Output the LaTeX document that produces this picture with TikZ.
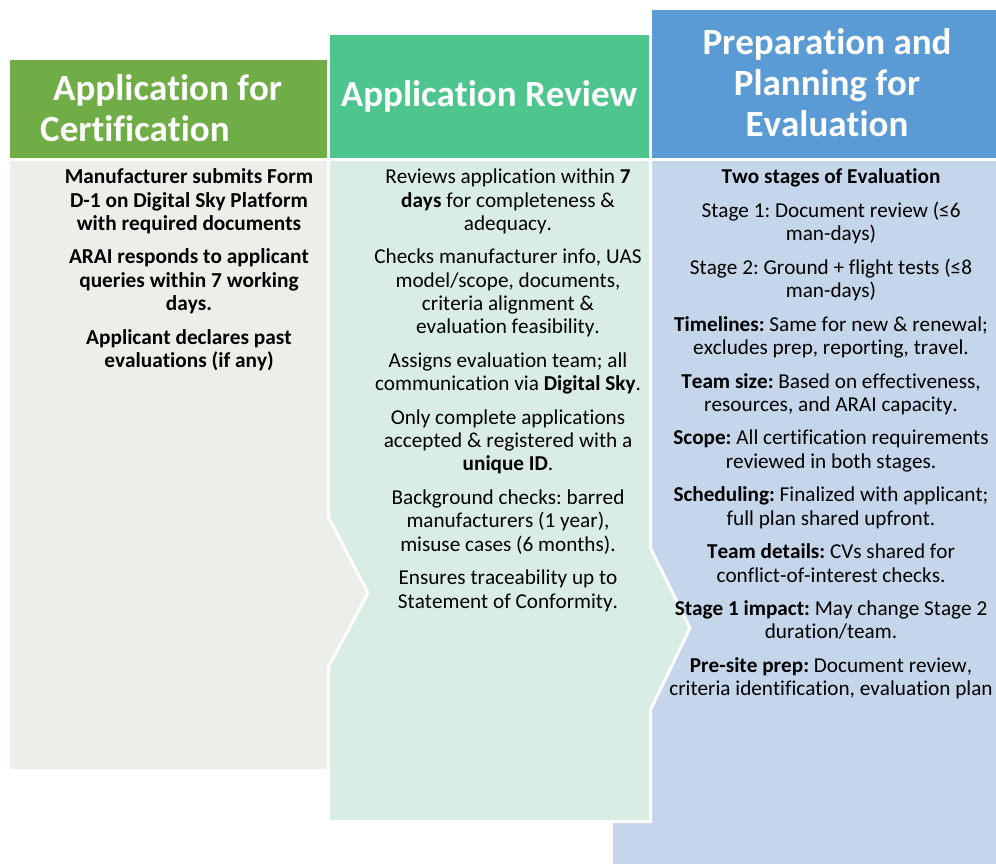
\documentclass[tikz,border=0pt]{standalone}
\usepackage{fontspec}
\setmainfont{Carlito}[Ligatures={NoCommon,NoRequired,NoContextual},Kerning=Off,RawFeature={-liga;-clig;-calt;-dlig}]
\frenchspacing
\definecolor{hA}{HTML}{70AD47}
\definecolor{hB}{HTML}{4FC58E}
\definecolor{hC}{HTML}{5B9BD5}
\definecolor{bA}{HTML}{EBEFE8}
\definecolor{bB}{HTML}{D9EDE5}
\definecolor{bC}{HTML}{C5D5EA}
\tikzset{
  shapebox/.style={draw=white, line width=3pt, line join=miter},
  headtext/.style={text=white, font=\fontsize{37}{41}\selectfont\bfseries\frenchspacing, inner sep=0pt},
  bodytext/.style={text=black, font=\fontsize{21.2}{23.3}\selectfont\frenchspacing, inner sep=0pt, align=center, anchor=north},
  bodybold/.style={bodytext, font=\fontsize{21.3}{23.3}\selectfont\bfseries\frenchspacing}
}
\begin{document}
\begin{tikzpicture}[x=1pt,y=-1pt]
\useasboundingbox (0,0) rectangle (996,864);
% bodies
\path[shapebox, fill=bC] (611.5,159.5) rectangle (997.5,865.5);
\path[shapebox, fill=bB] (328.5,159.5) -- (650.5,159.5) -- (650.5,548) -- (690,628) -- (650.5,710) -- (650.5,821.5) -- (328.5,821.5) -- cycle;
\path[shapebox, fill=bA] (8.5,159.5) -- (328.5,159.5) -- (328.5,517) -- (368,593) -- (328.5,667) -- (328.5,770.5) -- (8.5,770.5) -- cycle;
% headers
\path[shapebox, fill=hA] (8.5,58.5) rectangle (328.5,159.5);
\path[shapebox, fill=hB] (328.5,33.5) rectangle (650.5,159.5);
\path[shapebox, fill=hC] (650.5,8.5) rectangle (997.5,159.5);
% header texts
\node[headtext, anchor=north west, align=left] (h1t) at (40,70) {\rule{0pt}{30pt}\hspace*{13pt}Application for\\Certification};
\node[headtext, anchor=base] (h2t) at (489,107) {Application Review};
\node[headtext, anchor=north, align=center] (h3t) at (827,24) {\rule{0pt}{30pt}Preparation and\\Planning for\\Evaluation};
% body texts
\node[bodybold] (t1) at (189,165.5) {\rule{0pt}{18pt}Manufacturer submits Form\\D-1 on Digital Sky Platform\\with required documents\\[10.3pt]ARAI responds to applicant\\queries within 7 working\\days.\\[10.3pt]Applicant declares past\\evaluations (if any)};
\node[bodytext] (t2) at (508,165.5) {\rule{0pt}{18pt}Reviews application within \textbf{7}\\\textbf{days} for completeness \&\\adequacy.\\[10.3pt]Checks manufacturer info, UAS\\model/scope, documents,\\criteria alignment \&\\evaluation feasibility.\\[10.3pt]Assigns evaluation team; all\\communication via \textbf{Digital Sky}.\\[10.3pt]Only complete applications\\accepted \& registered with a\\\textbf{unique ID}.\\[10.3pt]Background checks: barred\\manufacturers (1 year),\\misuse cases (6 months).\\[10.3pt]Ensures traceability up to\\Statement of Conformity.};
\node[bodytext] (t3) at (831,165.5) {\rule{0pt}{18pt}\textbf{Two stages of Evaluation}\\[10.3pt]Stage 1: Document review (≤6\\man-days)\\[10.3pt]Stage 2: Ground + flight tests (≤8\\man-days)\\[10.3pt]\textbf{Timelines:} Same for new \& renewal;\\excludes prep, reporting, travel.\\[10.3pt]\textbf{Team size:} Based on effectiveness,\\resources, and ARAI capacity.\\[10.3pt]\textbf{Scope:} All certification requirements\\reviewed in both stages.\\[10.3pt]\textbf{Scheduling:} Finalized with applicant;\\full plan shared upfront.\\[10.3pt]\textbf{Team details:} CVs shared for\\conflict-of-interest checks.\\[10.3pt]\textbf{Stage 1 impact:} May change Stage 2\\duration/team.\\[10.3pt]\textbf{Pre-site prep:} Document review,\\criteria identification, evaluation plan};
\end{tikzpicture}
\end{document}
